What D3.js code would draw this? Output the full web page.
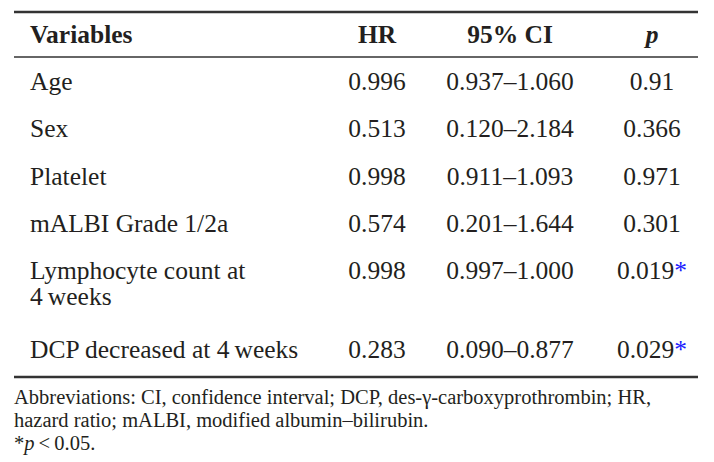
<!DOCTYPE html>
<html><head><meta charset="utf-8">
<script src="https://cdn.jsdelivr.net/npm/d3@7"></script>
<style>body{margin:0;background:#fff}</style>
</head><body>
<svg id="t" width="714" height="462"></svg>
<script>
var headers = ["Variables", "HR", "95% CI", "p"];
var variables = [["Age"], ["Sex"], ["Platelet"], ["mALBI Grade 1/2a"], ["Lymphocyte count at", "4\u2009weeks"], ["DCP decreased at 4\u2009weeks"]];
var hr = ["0.996", "0.513", "0.998", "0.574", "0.998", "0.283"];
var ci = ["0.937\u20131.060", "0.120\u20132.184", "0.911\u20131.093", "0.201\u20131.644", "0.997\u20131.000", "0.090\u20130.877"];
var pval = ["0.91", "0.366", "0.971", "0.301", "0.019", "0.029"];
var signif = [false, false, false, false, true, true];
var rowY = [90, 137, 185, 232, 279, 358];

var svg = d3.select("#t");
var font = "Liberation Serif, DejaVu Serif, serif";
var ink = "#231f20";
var colX = [30, 377, 510, 652];
var fs = 25.5, fn = 20.5;

function hline(y, w) {
  svg.append("line").attr("x1", 14).attr("x2", 698).attr("y1", y).attr("y2", y)
    .attr("stroke", "#333").attr("stroke-width", w);
}
hline(12, 2.5); hline(57, 1.5); hline(377, 2.5);

headers.forEach(function (h, i) {
  svg.append("text").attr("x", colX[i]).attr("y", 43)
    .attr("text-anchor", i == 0 ? "start" : "middle")
    .attr("font-family", font).attr("font-size", fs).attr("font-weight", "bold")
    .attr("font-style", i == 3 ? "italic" : "normal").attr("fill", ink).text(h);
});

variables.forEach(function (v, r) {
  var y = rowY[r];
  v.forEach(function (line, k) {
    svg.append("text").attr("x", colX[0]).attr("y", y + k * 26)
      .attr("font-family", font).attr("font-size", fs).attr("fill", ink).text(line);
  });
  [hr[r], ci[r]].forEach(function (s, i) {
    svg.append("text").attr("x", colX[i + 1]).attr("y", y).attr("text-anchor", "middle")
      .attr("font-family", font).attr("font-size", fs).attr("fill", ink).text(s);
  });
  var t = svg.append("text").attr("x", colX[3]).attr("y", y).attr("text-anchor", "middle")
    .attr("font-family", font).attr("font-size", fs).attr("fill", ink);
  t.append("tspan").text(pval[r]);
  if (signif[r]) t.append("tspan").attr("fill", "#1a1aff").text("*");
});

var notes = ["Abbreviations: CI, confidence interval; DCP, des-\u03b3-carboxyprothrombin; HR,",
  "hazard ratio; mALBI, modified albumin\u2013bilirubin."];
notes.forEach(function (n, i) {
  svg.append("text").attr("x", 14).attr("y", 404 + i * 23)
    .attr("font-family", font).attr("font-size", fn).attr("fill", ink).text(n);
});
var f = svg.append("text").attr("x", 14).attr("y", 450)
  .attr("font-family", font).attr("font-size", fn).attr("fill", ink);
f.append("tspan").text("*");
f.append("tspan").attr("font-style", "italic").text("p");
f.append("tspan").text("\u2009<\u20090.05.");
</script>
</body></html>
